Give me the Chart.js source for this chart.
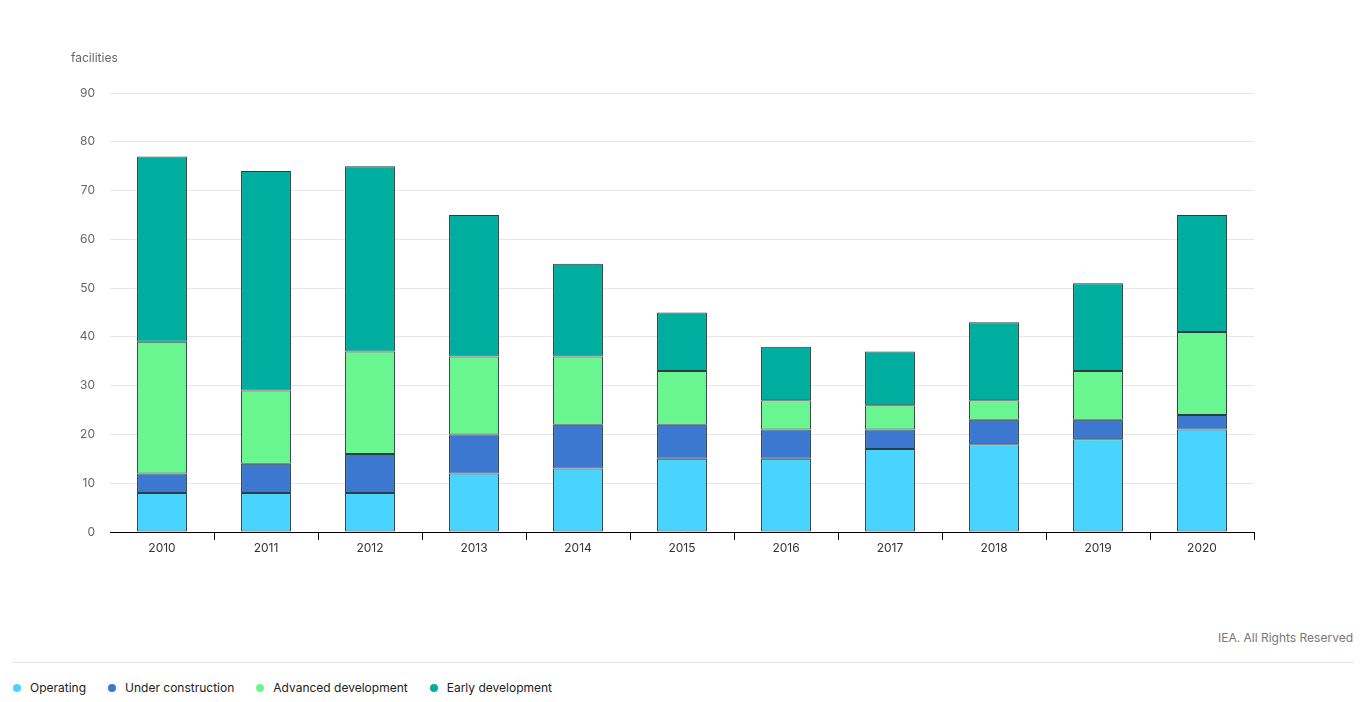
<!DOCTYPE html>
<html>
<head>
<meta charset="utf-8">
<script src="https://cdn.jsdelivr.net/npm/chart.js@4.4.0/dist/chart.umd.min.js"></script>
<style>
    body { margin: 0; background: #fff; font-family: Inter, "Noto Sans", sans-serif; }
    #wrap { position: relative; width: 1365px; height: 702px; }
    #chartBox { position: absolute; left: 0; top: 0; width: 1365px; height: 572px; }
    #unit { position: absolute; left: 71px; top: 50px; font-size: 12px; color: #666; }
    #credit { position: absolute; right: 12px; top: 630px; font-size: 12px; color: #777; }
    #sep { position: absolute; left: 12px; top: 662px; width: 1342px; height: 1px; background: #e3e3e3; }
    #legend { position: absolute; left: 13px; top: 680px; font-size: 12px; color: #222; display: flex; }
    #legend span.item { display: flex; align-items: center; margin-right: 22px; }
    #legend span.dot { width: 8px; height: 8px; border-radius: 50%; margin-right: 9px; display: inline-block; }
</style>
</head>
<body>
<div id="wrap">
    <div id="chartBox"><canvas id="facilitiesChart"></canvas></div>
    <div id="unit">facilities</div>
    <div id="credit">IEA. All Rights Reserved</div>
    <div id="sep"></div>
    <div id="legend"></div>
</div>
<script>
// Data
var years = ['2010', '2011', '2012', '2013', '2014', '2015', '2016', '2017', '2018', '2019', '2020'];
var operating = [8, 8, 8, 12, 13, 15, 15, 17, 18, 19, 21];
var underConstruction = [4, 6, 8, 8, 9, 7, 6, 4, 5, 4, 3];
var advancedDevelopment = [27, 15, 21, 16, 14, 11, 6, 5, 4, 10, 17];
var earlyDevelopment = [38, 45, 38, 29, 19, 12, 11, 11, 16, 18, 24];
var yTicks = [0, 10, 20, 30, 40, 50, 60, 70, 80, 90];

var seriesNames = ['Operating', 'Under construction', 'Advanced development', 'Early development'];
var seriesColors = ['#48D4FE', '#3C78D0', '#69F590', '#00AEA0'];
var seriesData = [operating, underConstruction, advancedDevelopment, earlyDevelopment];

window.onload = function() {
    createFacilitiesChart();
    buildLegend();
};

function createFacilitiesChart() {
    var ctx = document.getElementById('facilitiesChart').getContext('2d');
    var chart = new Chart(ctx, {
        type: 'bar',
        data: {
            labels: years,
            datasets: seriesNames.map(function(name, i) {
                return {
                    label: name,
                    data: seriesData[i],
                    backgroundColor: seriesColors[i],
                    borderColor: '#2b3d3f',
                    borderWidth: 1,
                    borderSkipped: false,
                    categoryPercentage: 1,
                    barPercentage: 0.48
                };
            })
        },
        options: {
            responsive: true,
            maintainAspectRatio: false,
            animation: false,
            layout: { padding: { top: 93, right: 111, left: 0, bottom: 0 } },
            plugins: {
                legend: { display: false },
                tooltip: { enabled: false }
            },
            scales: {
                x: {
                    stacked: true,
                    border: { display: true, color: '#000', width: 1 },
                    grid: {
                        offset: true,
                        drawOnChartArea: false,
                        tickLength: 8,
                        color: function(c) { return c.index === 0 ? 'rgba(0,0,0,0)' : '#000'; }
                    },
                    ticks: {
                        color: '#333',
                        padding: 1,
                        font: { family: 'Inter', size: 12 }
                    },
                    afterFit: function(scale) { scale.height = 40; }
                },
                y: {
                    stacked: true,
                    min: 0,
                    max: 90,
                    border: { display: false },
                    grid: { color: '#e6e6e6', drawTicks: false },
                    afterBuildTicks: function(scale) {
                        scale.ticks = yTicks.map(function(v) { return { value: v }; });
                    },
                    ticks: {
                        color: '#666',
                        padding: 15,
                        font: { family: 'Inter', size: 12 }
                    },
                    afterFit: function(scale) { scale.width = 110; }
                }
            }
        }
    });
}

function buildLegend() {
    var box = document.getElementById('legend');
    seriesNames.forEach(function(name, i) {
        var item = document.createElement('span');
        item.className = 'item';
        item.innerHTML = '<span class="dot" style="background:' + seriesColors[i] + '"></span>' + name;
        box.appendChild(item);
    });
}
</script>
</body>
</html>
